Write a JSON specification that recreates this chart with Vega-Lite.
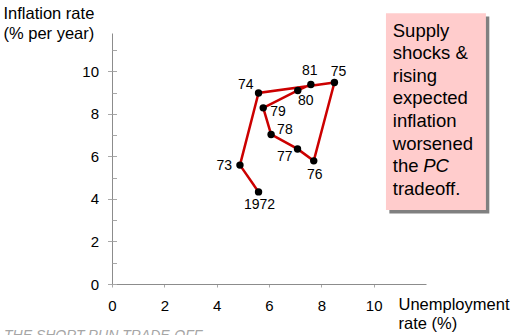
{
  "$schema": "https://vega.github.io/schema/vega-lite/v6.json",
  "width": 314,
  "height": 251,
  "autosize": {"type": "none"},
  "padding": {"left": 112, "top": 33, "right": 90, "bottom": 51},
  "background": "white",
  "config": {
    "view": {"stroke": null},
    "font": "Liberation Sans",
    "axis": {
      "grid": false,
      "labelFont": "Liberation Sans",
      "labelFontSize": 15,
      "labelColor": "#000000",
      "domainColor": "#8c8c8c",
      "tickColor": "#a8a8a8",
      "titleFont": "Liberation Sans",
      "titleFontSize": 16.5,
      "titleFontWeight": "normal",
      "titleColor": "#000000"
    },
    "text": {"font": "Liberation Sans"}
  },
  "title": {
    "text": "THE SHORT-RUN TRADE-OFF",
    "orient": "bottom",
    "anchor": "start",
    "frame": "group",
    "dx": -108,
    "offset": 8,
    "baseline": "alphabetic",
    "font": "Liberation Sans",
    "fontSize": 14,
    "fontStyle": "italic",
    "fontWeight": "normal",
    "color": "#a6a6a6"
  },
  "data": {
    "values": [
      {"year": 1972, "label": "1972", "u": 5.6, "inf": 4.33},
      {"year": 1973, "label": "73", "u": 4.89, "inf": 5.59},
      {"year": 1974, "label": "74", "u": 5.6, "inf": 8.98},
      {"year": 1975, "label": "75", "u": 8.5, "inf": 9.47},
      {"year": 1976, "label": "76", "u": 7.71, "inf": 5.79},
      {"year": 1977, "label": "77", "u": 7.09, "inf": 6.35},
      {"year": 1978, "label": "78", "u": 6.08, "inf": 7.03},
      {"year": 1979, "label": "79", "u": 5.78, "inf": 8.28},
      {"year": 1980, "label": "80", "u": 7.1, "inf": 9.1},
      {"year": 1981, "label": "81", "u": 7.6, "inf": 9.38}
    ]
  },
  "resolve": {"axis": {"y": "independent"}},
  "layer": [
    {
      "mark": {"type": "line", "color": "#cc0000", "strokeWidth": 2.5},
      "encoding": {
        "x": {
          "field": "u",
          "type": "quantitative",
          "scale": {"domain": [0, 12], "nice": false, "zero": false},
          "axis": {
            "values": [0, 2, 4, 6, 8, 10],
            "tickSize": 3,
            "labelPadding": 11.5,
            "labelFlush": false,
            "title": ["Unemployment", "rate (%)"],
            "titleAngle": 0,
            "titleAlign": "left",
            "titleAnchor": null,
            "titleBaseline": "alphabetic",
            "titleX": 286,
            "titleY": 25.5,
            "titleLineHeight": 18.5
          }
        },
        "y": {
          "field": "inf",
          "type": "quantitative",
          "scale": {"domain": [0, 11.8], "nice": false, "zero": false},
          "axis": {
            "orient": "left",
            "values": [0, 2, 4, 6, 8, 10],
            "tickSize": 4.5,
            "labelPadding": 9,
            "labelFlush": false,
            "title": ["Inflation rate", "(% per year)"],
            "titleAngle": 0,
            "titleAlign": "left",
            "titleAnchor": null,
            "titleBaseline": "alphabetic",
            "titleX": -109,
            "titleY": -14.5,
            "titleLineHeight": 19.5
          }
        },
        "order": {"field": "year", "type": "quantitative"}
      }
    },
    {
      "mark": {"type": "circle", "color": "#000000", "size": 55, "opacity": 1},
      "encoding": {
        "x": {"field": "u", "type": "quantitative"},
        "y": {
          "field": "inf",
          "type": "quantitative",
          "axis": {
            "orient": "left",
            "values": [0, 1, 2, 3, 4, 5, 6, 7, 8, 9, 10, 11],
            "tickSize": -4.5,
            "labels": false,
            "domain": false,
            "title": null
          }
        }
      }
    },
    {
      "transform": [{"filter": "datum.year == 1972"}],
      "mark": {"type": "text", "align": "center", "baseline": "alphabetic", "dx": 1, "dy": 17, "fontSize": 14},
      "encoding": {"x": {"field": "u", "type": "quantitative"}, "y": {"field": "inf", "type": "quantitative", "axis": null}, "text": {"field": "label"}}
    },
    {
      "transform": [{"filter": "datum.year == 1973"}],
      "mark": {"type": "text", "align": "right", "baseline": "alphabetic", "dx": -8, "dy": 5, "fontSize": 14},
      "encoding": {"x": {"field": "u", "type": "quantitative"}, "y": {"field": "inf", "type": "quantitative", "axis": null}, "text": {"field": "label"}}
    },
    {
      "transform": [{"filter": "datum.year == 1974"}],
      "mark": {"type": "text", "align": "right", "baseline": "alphabetic", "dx": -5, "dy": -4, "fontSize": 14},
      "encoding": {"x": {"field": "u", "type": "quantitative"}, "y": {"field": "inf", "type": "quantitative", "axis": null}, "text": {"field": "label"}}
    },
    {
      "transform": [{"filter": "datum.year == 1975"}],
      "mark": {"type": "text", "align": "center", "baseline": "alphabetic", "dx": 4, "dy": -7, "fontSize": 14},
      "encoding": {"x": {"field": "u", "type": "quantitative"}, "y": {"field": "inf", "type": "quantitative", "axis": null}, "text": {"field": "label"}}
    },
    {
      "transform": [{"filter": "datum.year == 1976"}],
      "mark": {"type": "text", "align": "center", "baseline": "alphabetic", "dx": 1, "dy": 18.5, "fontSize": 14},
      "encoding": {"x": {"field": "u", "type": "quantitative"}, "y": {"field": "inf", "type": "quantitative", "axis": null}, "text": {"field": "label"}}
    },
    {
      "transform": [{"filter": "datum.year == 1977"}],
      "mark": {"type": "text", "align": "right", "baseline": "alphabetic", "dx": -5, "dy": 12, "fontSize": 14},
      "encoding": {"x": {"field": "u", "type": "quantitative"}, "y": {"field": "inf", "type": "quantitative", "axis": null}, "text": {"field": "label"}}
    },
    {
      "transform": [{"filter": "datum.year == 1978"}],
      "mark": {"type": "text", "align": "left", "baseline": "alphabetic", "dx": 6, "dy": 0, "fontSize": 14},
      "encoding": {"x": {"field": "u", "type": "quantitative"}, "y": {"field": "inf", "type": "quantitative", "axis": null}, "text": {"field": "label"}}
    },
    {
      "transform": [{"filter": "datum.year == 1979"}],
      "mark": {"type": "text", "align": "left", "baseline": "alphabetic", "dx": 7, "dy": 8.5, "fontSize": 14},
      "encoding": {"x": {"field": "u", "type": "quantitative"}, "y": {"field": "inf", "type": "quantitative", "axis": null}, "text": {"field": "label"}}
    },
    {
      "transform": [{"filter": "datum.year == 1980"}],
      "mark": {"type": "text", "align": "center", "baseline": "alphabetic", "dx": 8, "dy": 15, "fontSize": 14},
      "encoding": {"x": {"field": "u", "type": "quantitative"}, "y": {"field": "inf", "type": "quantitative", "axis": null}, "text": {"field": "label"}}
    },
    {
      "transform": [{"filter": "datum.year == 1981"}],
      "mark": {"type": "text", "align": "center", "baseline": "alphabetic", "dx": -1, "dy": -9, "fontSize": 14},
      "encoding": {"x": {"field": "u", "type": "quantitative"}, "y": {"field": "inf", "type": "quantitative", "axis": null}, "text": {"field": "label"}}
    },
    {
      "data": {"values": [{"note": "shadow"}]},
      "mark": {"type": "rect", "color": "#808080", "opacity": 1},
      "encoding": {
        "x": {"datum": 10.6},
        "x2": {"datum": 14.42},
        "y": {"datum": 12.57, "axis": null},
        "y2": {"datum": 3.31}
      }
    },
    {
      "data": {"values": [{"note": "box"}]},
      "mark": {"type": "rect", "color": "#ffcccc", "opacity": 1},
      "encoding": {
        "x": {"datum": 10.47},
        "x2": {"datum": 14.29},
        "y": {"datum": 12.73, "axis": null},
        "y2": {"datum": 3.48}
      }
    },
    {
      "data": {"values": [{"note": "text"}]},
      "mark": {
        "type": "text",
        "align": "left",
        "baseline": "alphabetic",
        "fontSize": 18.5,
        "lineHeight": 22.6,
        "color": "#000000",
        "text": ["Supply", "shocks &", "rising", "expected", "inflation", "worsened", "the", "tradeoff."]
      },
      "encoding": {
        "x": {"datum": 10.73},
        "y": {"datum": 11.63, "axis": null}
      }
    },
    {
      "data": {"values": [{"note": "PC"}]},
      "mark": {
        "type": "text",
        "align": "left",
        "baseline": "alphabetic",
        "fontSize": 18.5,
        "fontStyle": "italic",
        "dx": 30.5,
        "color": "#000000",
        "text": "PC"
      },
      "encoding": {
        "x": {"datum": 10.73},
        "y": {"datum": 5.25, "axis": null}
      }
    }
  ]
}
